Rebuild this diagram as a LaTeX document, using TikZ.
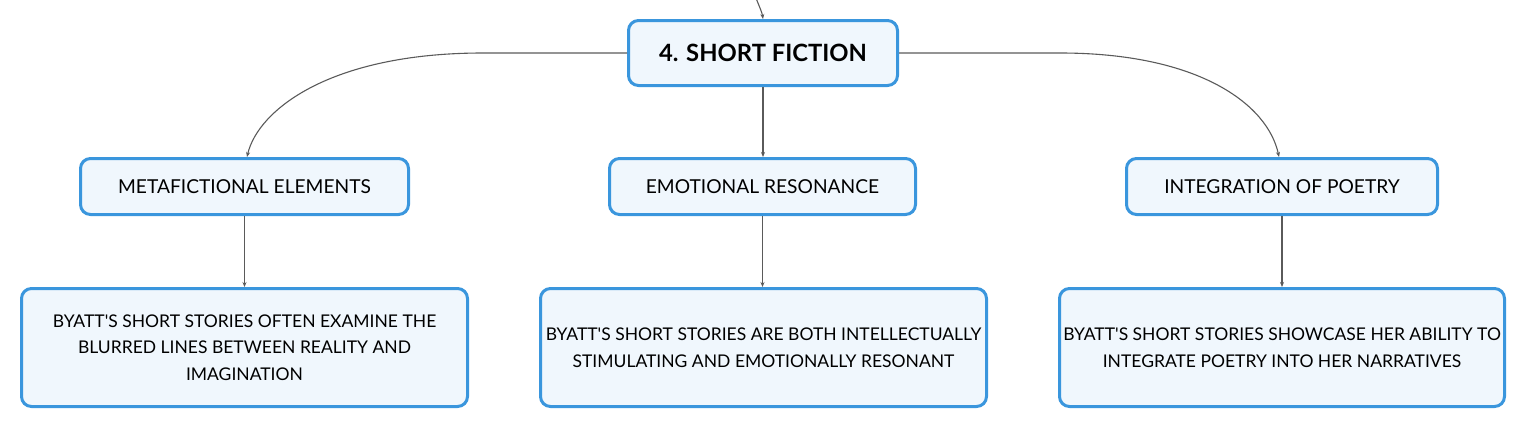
\documentclass[tikz,border=0pt]{standalone}
\usepackage{fontspec}
\setmainfont{Lato}[Ligatures=TeXOff]
\usetikzlibrary{arrows.meta}
\definecolor{boxblue}{HTML}{3A96DD}
\definecolor{boxfill}{HTML}{F0F7FD}
\definecolor{linegray}{HTML}{5A5A5A}
\tikzset{
  box/.style={draw=boxblue, fill=boxfill, line width=3pt, rounded corners=10pt, inner sep=0pt, align=center, text=black},
  rootbox/.style={box, font=\fontsize{23.8}{28}\selectfont\bfseries},
  midbox/.style={box, font=\fontsize{19.2}{23}\selectfont},
  leafbox/.style={box, font=\fontsize{17.5}{26.5}\selectfont},
  conn/.style={draw=linegray, line width=1.1pt, -{Stealth[length=5pt,width=4pt]}}
}
\begin{document}
\begin{tikzpicture}[x=1pt,y=-1pt]
\useasboundingbox (0,0) rectangle (1527,429);
\node[rootbox, minimum width=269pt, minimum height=65pt] (root) at (763,53) {4. SHORT FICTION};
\node[midbox, minimum width=328pt, minimum height=56pt] (m1) at (244.5,186.5) {METAFICTIONAL ELEMENTS};
\node[midbox, minimum width=306pt, minimum height=56pt] (m2) at (762.5,186.5) {EMOTIONAL RESONANCE};
\node[midbox, minimum width=311pt, minimum height=56pt] (m3) at (1282,186.5) {INTEGRATION OF POETRY};
\node[leafbox, minimum width=446pt, minimum height=118pt] (l1) at (244.5,347.5) {BYATT'S SHORT STORIES OFTEN EXAMINE THE\\BLURRED LINES BETWEEN REALITY AND\\IMAGINATION};
\node[leafbox, minimum width=446pt, minimum height=118pt] (l2) at (763.5,347.5) {BYATT'S SHORT STORIES ARE BOTH INTELLECTUALLY\\STIMULATING AND EMOTIONALLY RESONANT};
\node[leafbox, minimum width=445pt, minimum height=118pt] (l3) at (1282,347.5) {BYATT'S SHORT STORIES SHOWCASE HER ABILITY TO\\INTEGRATE POETRY INTO HER NARRATIVES};
\coordinate (top) at (756,-2);
\coordinate (lbend) at (483,53);
\coordinate (rbend) at (1060,53);
\draw[conn] (top) .. controls (759,6) and (762,12) .. (root.north);
\draw[conn] (root.west) -- (lbend) .. controls (330,53) and (258,110) .. ([xshift=2.5pt]m1.north);
\draw[conn] (root.east) -- (rbend) .. controls (1200,53) and (1268,105) .. ([xshift=-3pt]m3.north);
\draw[conn] (root.south) -- (m2.north -| root.south);
\draw[conn] (m1.south) -- (l1.north);
\draw[conn] (m2.south) -- (l2.north -| m2.south);
\draw[conn] (m3.south) -- (l3.north);
\end{tikzpicture}
\end{document}
